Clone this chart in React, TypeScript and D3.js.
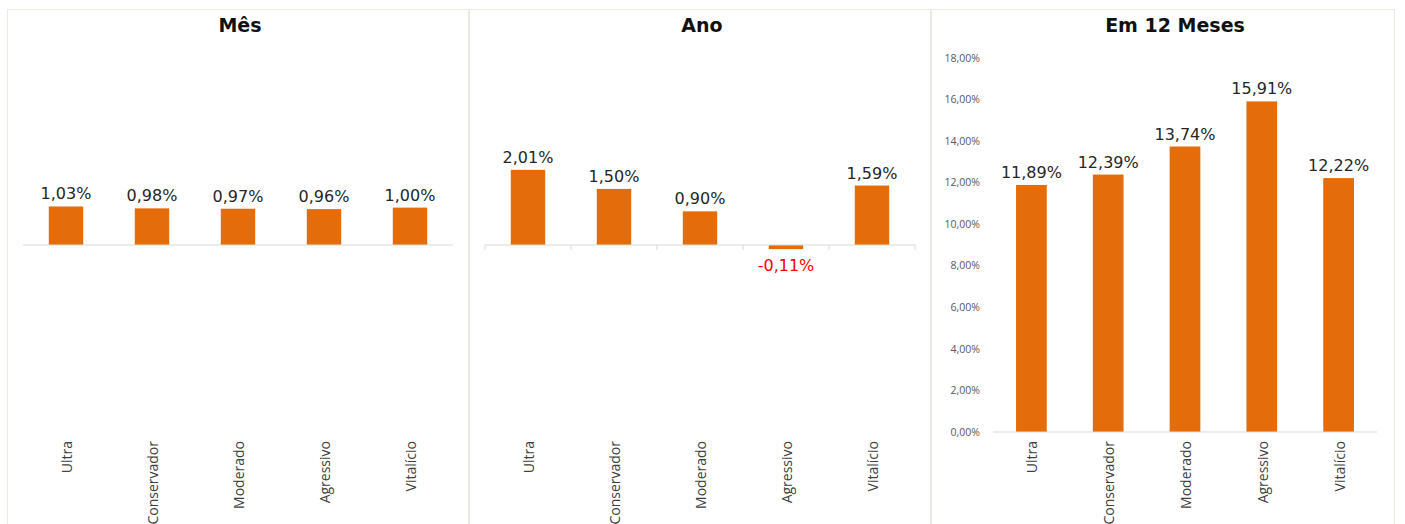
import React from 'react';
import * as d3 from 'd3';

const categories = ['Ultra', 'Conservador', 'Moderado', 'Agressivo', 'Vitalício'];
const mesValues = [1.03, 0.98, 0.97, 0.96, 1.0];
const anoValues = [2.01, 1.5, 0.9, -0.11, 1.59];
const dozeValues = [11.89, 12.39, 13.74, 15.91, 12.22];
const dozeTicks = [0, 2, 4, 6, 8, 10, 12, 14, 16, 18];

const ptBR = d3.formatLocale({ decimal: ',', thousands: '.', grouping: [3], currency: ['R$', ''], minus: '-' });
const fmt = (v: number) => ptBR.format('.2f')(v) + '%';

const BAR = '#e46c0a';
const W = 1405;
const H = 524;

type PanelProps = {
  title: string;
  values: number[];
  left: number;
  right: number;
  plotLeft: number;
  plotRight: number;
  domain: [number, number];
  ticks?: number[];
  tickMarks?: boolean;
};

function Panel({ title, values, left, right, plotLeft, plotRight, domain, ticks, tickMarks }: PanelProps) {
  const top = 58, bottom = 432;
  const x = d3.scaleBand<string>().domain(categories).range([plotLeft, plotRight]).paddingInner(0.6).paddingOuter(0.3);
  const y = d3.scaleLinear().domain(domain).range([bottom, top]);
  const step = x.step();
  const y0 = y(0);

  return (
    <g>
      <rect x={left + 0.5} y={9.5} width={right - left - 1} height={H} fill="#fff" stroke="#ebebe4" />
      <text x={(plotLeft + plotRight) / 2 + (ticks ? -10 : 2)} y={32} textAnchor="middle"
        style={{ font: 'bold 19px "DejaVu Sans"', fill: '#111' }}>{title}</text>

      {ticks && ticks.map(t => (
        <text key={t} x={plotLeft - 13} y={y(t)} dy="0.35em" textAnchor="end"
          style={{ font: '10.5px "Open Sans"', fill: '#595959' }}>{fmt(t)}</text>
      ))}

      {values.map((v, i) => {
        const c = categories[i];
        const bx = x(c)!;
        const yt = y(Math.max(0, v));
        const yb = y(Math.min(0, v));
        return (
          <g key={c}>
            <rect x={bx} y={yt} width={x.bandwidth()} height={yb - yt} fill={BAR} />
            <text x={bx + x.bandwidth() / 2} y={v >= 0 ? yt - 7 : yb + 22} textAnchor="middle"
              style={{ font: '16px "DejaVu Sans"', fill: v >= 0 ? '#262626' : '#ff0000' }}>{fmt(v)}</text>
          </g>
        );
      })}

      <line x1={plotLeft} x2={plotRight} y1={y0} y2={y0} stroke="#d9d9d9" strokeWidth={1.2} />
      {tickMarks && d3.range(categories.length + 1).map(i => (
        <line key={i} x1={plotLeft + i * step} x2={plotLeft + i * step} y1={y0} y2={y0 + 5} stroke="#d9d9d9" />
      ))}

      {categories.map(c => {
        const cx = x(c)! + x.bandwidth() / 2 + 1;
        return (
          <text key={c} transform={`translate(${cx},${bottom + 9}) rotate(-90)`} dy="0.35em" textAnchor="end"
            style={{ font: '14px "Open Sans"', fill: '#404040' }}>{c}</text>
        );
      })}
    </g>
  );
}

export default function App() {
  return (
    <svg width={W} height={H} style={{ position: 'absolute', left: 0, top: 0, background: '#fff' }}>
      <Panel title="Mês" values={mesValues} left={7} right={469} plotLeft={23} plotRight={453} domain={[-5, 5]} />
      <Panel title="Ano" values={anoValues} left={469} right={931} plotLeft={485} plotRight={915} domain={[-5, 5]} tickMarks />
      <Panel title="Em 12 Meses" values={dozeValues} left={931} right={1395} plotLeft={993} plotRight={1377}
        domain={[0, 18]} ticks={dozeTicks} />
    </svg>
  );
}
